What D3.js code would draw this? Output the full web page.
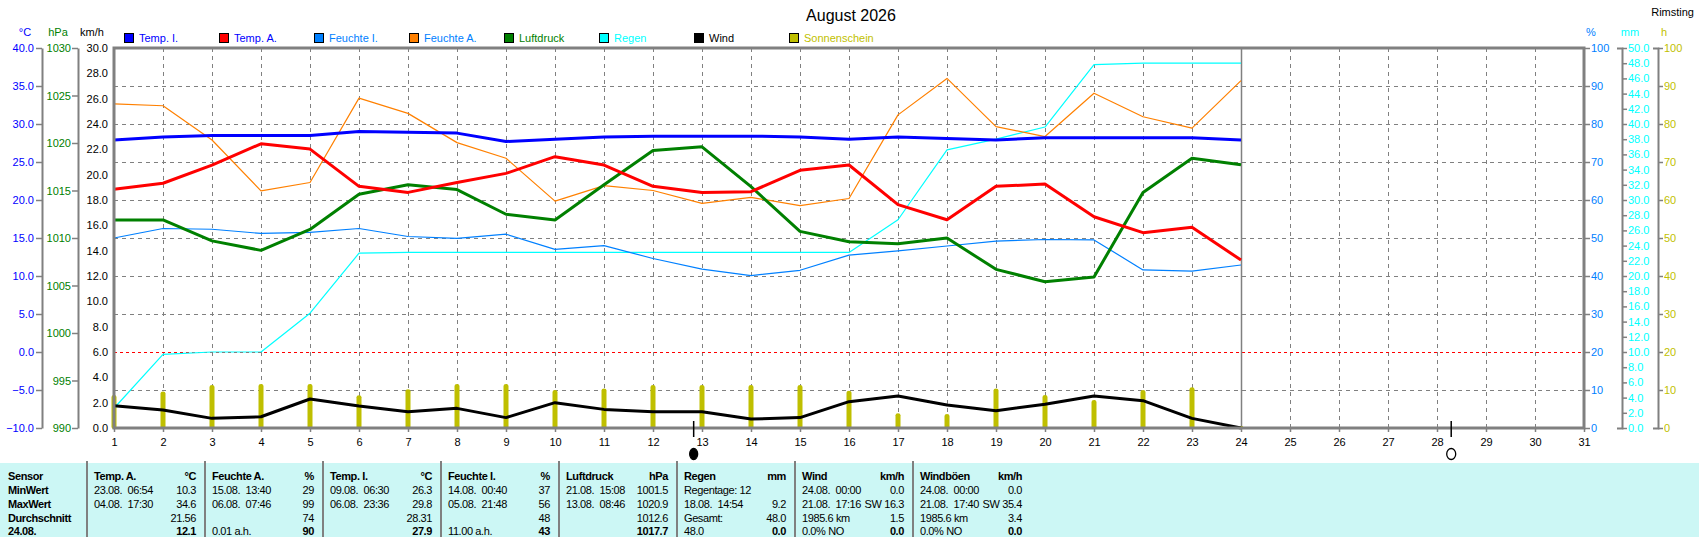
<!DOCTYPE html>
<html>
<head>
<meta charset="utf-8">
<title>August 2026</title>
<script src="https://cdn.jsdelivr.net/npm/d3@7"></script>
<style>
	body { margin: 0; background: #ffffff; }
	svg { display: block; font-family: "Liberation Sans", Arial, sans-serif; }
	.grid { stroke: #808080; stroke-width: 1; stroke-dasharray: 4,4; shape-rendering: crispEdges; }
	.frost { stroke: #ff0000; stroke-width: 1; stroke-dasharray: 3,3; shape-rendering: crispEdges; }
	.series { fill: none; stroke-linejoin: round; }
	.axis text { font-family: "Liberation Sans", Arial, sans-serif; font-size: 11px; }
	.axis line, .axis path { stroke: #808080; }
	.table-text { font-size: 11px; white-space: pre; letter-spacing: -0.4px; }
</style>
</head>
<body>
<div class="weather-month"></div>
<script>
// Tageswerte August 2026 (Tag 1 - 24)
var days = [1, 2, 3, 4, 5, 6, 7, 8, 9, 10, 11, 12, 13, 14, 15, 16, 17, 18, 19, 20, 21, 22, 23, 24];
var tempInnen = [27.9, 28.3, 28.5, 28.5, 28.5, 29.0, 28.9, 28.8, 27.7, 28.0, 28.3, 28.4, 28.4, 28.4, 28.3, 28.0, 28.3, 28.1, 27.9, 28.2, 28.2, 28.2, 28.2, 27.9];
var tempAussen = [21.4, 22.2, 24.6, 27.4, 26.7, 21.8, 21.0, 22.3, 23.5, 25.7, 24.6, 21.8, 21.0, 21.1, 23.9, 24.6, 19.4, 17.4, 21.8, 22.1, 17.8, 15.7, 16.4, 12.1];
var feuchteInnen = [50.0, 52.5, 52.3, 51.2, 51.5, 52.5, 50.4, 49.9, 51.0, 47.0, 48.0, 44.6, 41.8, 40.1, 41.5, 45.5, 46.6, 47.9, 49.2, 49.6, 49.5, 41.6, 41.3, 42.9];
var feuchteAussen = [85.3, 84.8, 75.8, 62.4, 64.6, 86.8, 82.8, 75.1, 71.0, 59.7, 63.8, 62.5, 59.1, 60.7, 58.5, 60.4, 82.4, 92.0, 79.3, 76.7, 88.1, 81.9, 78.9, 91.4];
var luftdruck = [1011.9, 1011.9, 1009.7, 1008.7, 1010.9, 1014.6, 1015.6, 1015.1, 1012.5, 1011.9, 1015.6, 1019.2, 1019.6, 1015.4, 1010.7, 1009.6, 1009.4, 1010.0, 1006.7, 1005.4, 1005.9, 1014.8, 1018.4, 1017.7];
var regen = [2.6, 9.7, 10.0, 10.0, 15.1, 23.0, 23.1, 23.1, 23.1, 23.1, 23.1, 23.1, 23.1, 23.1, 23.1, 23.1, 27.4, 36.6, 38.0, 39.6, 47.8, 48.0, 48.0, 48.0];
var wind = [1.76, 1.42, 0.76, 0.89, 2.29, 1.74, 1.29, 1.55, 0.82, 2.0, 1.47, 1.29, 1.29, 0.71, 0.82, 2.08, 2.53, 1.82, 1.37, 1.87, 2.53, 2.16, 0.76, 0.0];
var sonne = [8.7, 9.6, 11.3, 11.6, 11.6, 8.6, 10.2, 11.6, 11.6, 10.0, 10.4, 11.3, 11.3, 11.3, 11.3, 9.8, 3.9, 3.7, 10.4, 8.7, 7.4, 10.0, 10.7, 0.5];

var monthDays = d3.range(1, 32);
var lastDay = 24;
var moonDays = [12.83, 28.29];
var moonFull = [false, true];

var legendNames = ["Temp. I.", "Temp. A.", "Feuchte I.", "Feuchte A.", "Luftdruck", "Regen", "Wind", "Sonnenschein"];
var legendColors = ["#0000ff", "#ff0000", "#0080ff", "#ff8000", "#008000", "#00ffff", "#000000", "#bfbf00"];
var legendTextColors = ["#0000ff", "#0000ff", "#0080ff", "#0080ff", "#008000", "#00ffff", "#000000", "#bfbf00"];

// Statistik-Tabelle
var tableGroups = ["Temp. A.", "Feuchte A.", "Temp. I.", "Feuchte I.", "Luftdruck", "Regen", "Wind", "Windböen"];
var tableUnits = ["°C", "%", "°C", "%", "hPa", "mm", "km/h", "km/h"];
var rowLabels = ["MinWert", "MaxWert", "Durchschnitt", "24.08."];
var minTexts = ["23.08.  06:54", "15.08.  13:40", "09.08.  06:30", "14.08.  00:40", "21.08.  15:08", "Regentage: 12", "24.08.  00:00", "24.08.  00:00"];
var minValues = ["10.3", "29", "26.3", "37", "1001.5", "", "0.0", "0.0"];
var maxTexts = ["04.08.  17:30", "06.08.  07:46", "06.08.  23:36", "05.08.  21:48", "13.08.  08:46", "18.08.  14:54", "21.08.  17:16", "21.08.  17:40"];
var maxValues = ["34.6", "99", "29.8", "56", "1020.9", "9.2", "SW 16.3", "SW 35.4"];
var avgTexts = ["", "", "", "", "", "Gesamt:", "1985.6 km", "1985.6 km"];
var avgValues = ["21.56", "74", "28.31", "48", "1012.6", "48.0", "1.5", "3.4"];
var todayTexts = ["", "0.01 a.h.", "", "11.00 a.h.", "", "48.0", "0.0% NO", "0.0% NO"];
var todayValues = ["12.1", "90", "27.9", "43", "1017.7", "0.0", "0.0", "0.0"];

var WIDTH = 1699;
var HEIGHT = 537;
var PLOT_LEFT = 114;
var PLOT_RIGHT = 1584;
var PLOT_TOP = 48;
var PLOT_BOTTOM = 428;

var svg = d3.select(".weather-month").append("svg")
	.attr("width", WIDTH)
	.attr("height", HEIGHT);

svg.append("rect")
	.attr("width", WIDTH)
	.attr("height", HEIGHT)
	.style("fill", "#ffffff");

var xScale = d3.scaleLinear().domain([1, 31]).range([PLOT_LEFT, PLOT_RIGHT]);
var yKmh = d3.scaleLinear().domain([0, 30]).range([PLOT_BOTTOM, PLOT_TOP]);
var yTemp = d3.scaleLinear().domain([-10, 40]).range([PLOT_BOTTOM, PLOT_TOP]);
var yHpa = d3.scaleLinear().domain([990, 1030]).range([PLOT_BOTTOM, PLOT_TOP]);
var yPct = d3.scaleLinear().domain([0, 100]).range([PLOT_BOTTOM, PLOT_TOP]);
var yMm = d3.scaleLinear().domain([0, 50]).range([PLOT_BOTTOM, PLOT_TOP]);
var ySun = d3.scaleLinear().domain([0, 100]).range([PLOT_BOTTOM, PLOT_TOP]);

// Titel
svg.append("text")
	.text("August 2026")
	.attr("x", 851)
	.attr("y", 21)
	.attr("text-anchor", "middle")
	.style("font-size", "16px")
	.style("fill", "#000000");

svg.append("text")
	.text("Rimsting")
	.attr("x", 1694)
	.attr("y", 16)
	.attr("text-anchor", "end")
	.style("font-size", "11px")
	.style("fill", "#000000");

// Legende
var legend = svg.append("g").attr("class", "legend");
for (var i = 0; i < legendNames.length; i++)
{
	var lx = 124 + i * 95;
	legend.append("rect")
		.attr("x", lx + 0.5)
		.attr("y", 33.5)
		.attr("width", 9)
		.attr("height", 9)
		.style("fill", legendColors[i])
		.style("stroke", "#000000")
		.style("stroke-width", 1);
	legend.append("text")
		.text(legendNames[i])
		.attr("x", lx + 15)
		.attr("y", 42)
		.style("font-size", "11px")
		.style("fill", legendTextColors[i]);
}

// Achsentitel
var axisTitles = [
	{t: "°C", x: 25, c: "#0000ff"},
	{t: "hPa", x: 58, c: "#008000"},
	{t: "km/h", x: 92, c: "#000000"},
	{t: "%", x: 1591, c: "#0080ff"},
	{t: "mm", x: 1630, c: "#00ffff"},
	{t: "h", x: 1664, c: "#bfbf00"}
];
axisTitles.forEach(function(a)
{
	svg.append("text")
		.text(a.t)
		.attr("x", a.x)
		.attr("y", 36)
		.attr("text-anchor", "middle")
		.style("font-size", "11px")
		.style("fill", a.c);
});

// Gitter
var grid = svg.append("g").attr("class", "gridlines");
monthDays.filter(function(d) { return d > 1 && d < 31 && d != lastDay; }).forEach(function(d)
{
	grid.append("line")
		.attr("class", "grid")
		.attr("x1", Math.round(xScale(d)) + 0.5)
		.attr("x2", Math.round(xScale(d)) + 0.5)
		.attr("y1", PLOT_TOP)
		.attr("y2", PLOT_BOTTOM);
});
d3.range(10, 100, 10).forEach(function(p)
{
	grid.append("line")
		.attr("class", p == 20 ? "frost" : "grid")
		.attr("x1", PLOT_LEFT)
		.attr("x2", PLOT_RIGHT)
		.attr("y1", Math.round(yPct(p)) + 0.5)
		.attr("y2", Math.round(yPct(p)) + 0.5);
});

// aktueller Tag
svg.append("line")
	.attr("x1", Math.round(xScale(lastDay)) + 0.5)
	.attr("x2", Math.round(xScale(lastDay)) + 0.5)
	.attr("y1", PLOT_TOP)
	.attr("y2", PLOT_BOTTOM)
	.style("stroke", "#808080")
	.style("stroke-width", 1.5);

// Sonnenschein
svg.append("g").selectAll("rect")
	.data(days)
	.enter().append("rect")
	.attr("x", function(d) { return xScale(d) - 2.5; })
	.attr("y", function(d, i) { return ySun(sonne[i]); })
	.attr("width", 5)
	.attr("height", function(d, i) { return PLOT_BOTTOM - ySun(sonne[i]) + 1; })
	.attr("rx", 2.5)
	.attr("ry", 2)
	.style("fill", "#bfbf00");

function drawSeries(values, scale, color, width)
{
	var line = d3.line()
		.x(function(d, i) { return xScale(days[i]); })
		.y(function(d) { return scale(d); });
	svg.append("path")
		.datum(values)
		.attr("class", "series")
		.attr("d", line)
		.style("stroke", color)
		.style("stroke-width", width);
}

drawSeries(regen, yMm, "#00ffff", 1.2);
drawSeries(feuchteAussen, yPct, "#ff8000", 1.2);
drawSeries(feuchteInnen, yPct, "#0080ff", 1.2);
drawSeries(luftdruck, yHpa, "#008000", 3);
drawSeries(tempAussen, yTemp, "#ff0000", 3);
drawSeries(tempInnen, yTemp, "#0000ff", 3);
drawSeries(wind, yKmh, "#000000", 3);

// Rahmen
svg.append("rect")
	.attr("x", PLOT_LEFT)
	.attr("y", PLOT_TOP)
	.attr("width", PLOT_RIGHT - PLOT_LEFT)
	.attr("height", PLOT_BOTTOM - PLOT_TOP)
	.style("fill", "none")
	.style("stroke", "#808080")
	.style("stroke-width", 3);

// Achsen
function styleAxis(g, color, lineWidth)
{
	g.attr("font-family", null).attr("font-size", null);
	g.selectAll("text").style("fill", color);
	g.selectAll("line").style("stroke", "#808080").style("stroke-width", 1.5);
	g.select(".domain").style("stroke", "#808080").style("stroke-width", lineWidth);
}

var axisTemp = svg.append("g")
	.attr("class", "axis")
	.attr("transform", "translate(42,0)")
	.call(d3.axisLeft(yTemp).tickValues(d3.range(-10, 41, 5)).tickSize(6).tickSizeOuter(0).tickPadding(2).tickFormat(d3.format(".1f")));
styleAxis(axisTemp, "#0000ff", 2);

var axisHpa = svg.append("g")
	.attr("class", "axis")
	.attr("transform", "translate(78,0)")
	.call(d3.axisLeft(yHpa).tickValues(d3.range(990, 1031, 5)).tickSize(6).tickSizeOuter(0).tickPadding(1).tickFormat(d3.format("d")));
styleAxis(axisHpa, "#008000", 2);

var axisKmh = svg.append("g")
	.attr("class", "axis")
	.attr("transform", "translate(" + PLOT_LEFT + ",0)")
	.call(d3.axisLeft(yKmh).tickValues(d3.range(0, 31, 2)).tickSize(0).tickPadding(6).tickFormat(d3.format(".1f")));
styleAxis(axisKmh, "#000000", 0);

var axisPct = svg.append("g")
	.attr("class", "axis")
	.attr("transform", "translate(" + PLOT_RIGHT + ",0)")
	.call(d3.axisRight(yPct).tickValues(d3.range(0, 101, 10)).tickSize(6).tickSizeOuter(0).tickPadding(1).tickFormat(d3.format("d")));
styleAxis(axisPct, "#0080ff", 0);

var axisMm = svg.append("g")
	.attr("class", "axis")
	.attr("transform", "translate(1622,0)")
	.call(d3.axisRight(yMm).tickValues(d3.range(0, 51, 2)).tickSize(5).tickSizeOuter(-5).tickPadding(1).tickFormat(d3.format(".1f")));
styleAxis(axisMm, "#00ffff", 2);

var axisSun = svg.append("g")
	.attr("class", "axis")
	.attr("transform", "translate(1658,0)")
	.call(d3.axisRight(ySun).tickValues(d3.range(0, 101, 10)).tickSize(5).tickSizeOuter(-5).tickPadding(1).tickFormat(d3.format("d")));
styleAxis(axisSun, "#bfbf00", 2);

var axisDays = svg.append("g")
	.attr("class", "axis")
	.attr("transform", "translate(0," + PLOT_BOTTOM + ")")
	.call(d3.axisBottom(xScale).tickValues(monthDays).tickSize(4).tickSizeOuter(0).tickPadding(6).tickFormat(d3.format("d")));
styleAxis(axisDays, "#000000", 0);

// Mondphasen
for (var m = 0; m < moonDays.length; m++)
{
	var mx = xScale(moonDays[m]);
	svg.append("line")
		.attr("x1", mx)
		.attr("x2", mx)
		.attr("y1", 421)
		.attr("y2", 437)
		.style("stroke", "#000000")
		.style("stroke-width", 1.5);
	svg.append("ellipse")
		.attr("cx", mx)
		.attr("cy", 454)
		.attr("rx", moonFull[m] ? 4.5 : 4)
		.attr("ry", 5.5)
		.style("fill", moonFull[m] ? "#ffffff" : "#000000")
		.style("stroke", "#000000")
		.style("stroke-width", 1.3);
}

// Tabelle
var TABLE_TOP = 463;
var COL_START = 87;
var COL_WIDTH = 118;
var ROW_Y = [480, 494, 508, 522, 535];

svg.append("rect")
	.attr("x", 0)
	.attr("y", TABLE_TOP)
	.attr("width", WIDTH)
	.attr("height", HEIGHT - TABLE_TOP)
	.style("fill", "#ccf7f5");

var table = svg.append("g").attr("class", "table");
for (var c = 0; c < tableGroups.length; c++)
{
	table.append("line")
		.attr("x1", COL_START + c * COL_WIDTH)
		.attr("x2", COL_START + c * COL_WIDTH)
		.attr("y1", 461)
		.attr("y2", HEIGHT)
		.style("stroke", "#808080")
		.style("stroke-width", 2);
}

function tableText(txt, x, y, anchor, bold)
{
	if (txt == "") return;
	table.append("text")
		.attr("class", "table-text")
		.text(txt)
		.attr("x", x)
		.attr("y", y)
		.attr("text-anchor", anchor)
		.style("font-weight", bold ? "bold" : "normal")
		.style("fill", "#000000");
}

tableText("Sensor", 8, ROW_Y[0], "start", true);
for (var r = 0; r < rowLabels.length; r++) tableText(rowLabels[r], 8, ROW_Y[r + 1], "start", true);

var rowTexts = [minTexts, maxTexts, avgTexts, todayTexts];
var rowValues = [minValues, maxValues, avgValues, todayValues];
for (var c = 0; c < tableGroups.length; c++)
{
	var left = COL_START + c * COL_WIDTH + 7;
	var right = COL_START + c * COL_WIDTH + 109;
	tableText(tableGroups[c], left, ROW_Y[0], "start", true);
	tableText(tableUnits[c], right, ROW_Y[0], "end", true);
	for (var r = 0; r < rowTexts.length; r++)
	{
		tableText(rowTexts[r][c], left, ROW_Y[r + 1], "start", false);
		tableText(rowValues[r][c], right, ROW_Y[r + 1], "end", r == 3);
	}
}
</script>
</body>
</html>
